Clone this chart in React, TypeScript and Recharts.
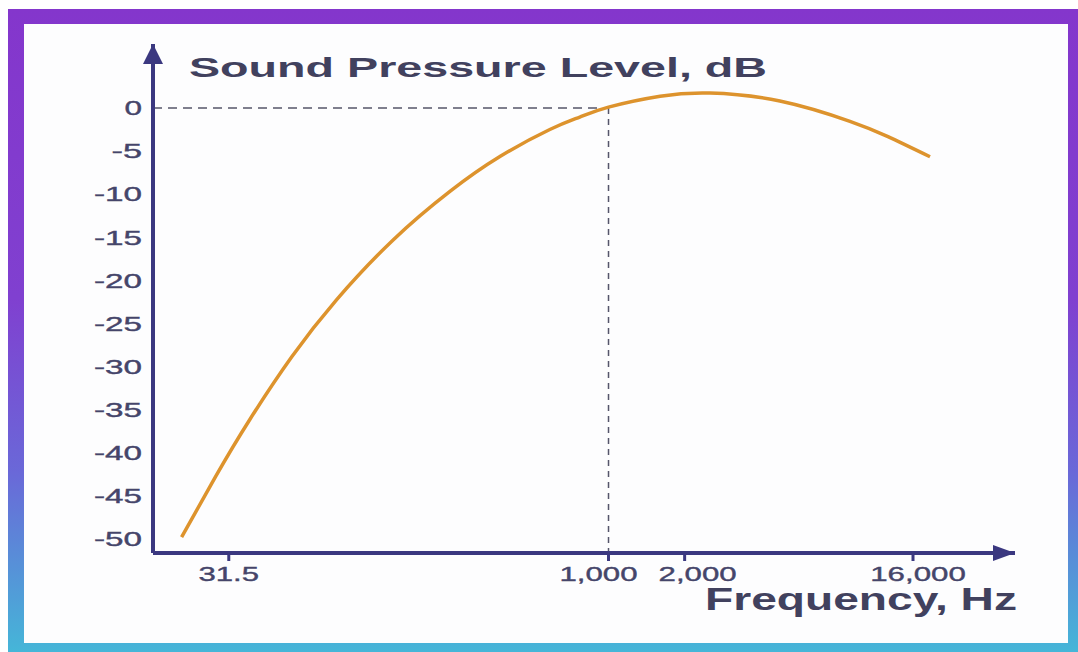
import { LineChart, Line, XAxis, YAxis, ReferenceLine, ReferenceDot } from "recharts";

// curve: frequency (Hz) and level (dB)
const freqs = [20.5, 28, 38, 56, 84, 140, 236, 372, 586, 770, 1000, 1600, 2520, 4760, 9010, 12740, 18680];
const levels = [-49.9, -42.8, -36.3, -28.9, -22.3, -15.4, -9.7, -5.65, -2.5, -1.05, 0.1, 1.37, 1.74, 0.81, -1.55, -3.33, -5.67];

const xTicks = [31.5, 1000, 2000, 16000];
const xTickLabels = ["31.5", "1,000", "2,000", "16,000"];
const yTicks = [0, -5, -10, -15, -20, -25, -30, -35, -40, -45, -50];

const refFreq = 1000;
const refLevel = 0;

const X_MIN = 15.8;
const X_MAX = 40500;
const Y_MIN = -51.74;
const Y_MAX = 7.44;

const NAVY = "#3b3880";
const TEXT = "#45456a";
const ORANGE = "#dd932d";

const data = freqs.map((f, i) => ({ f, db: levels[i] }));

// the source artwork is stretched sideways, so text is given a forced width
function textWidth(s: string) {
  let w = 0;
  for (const c of s) {
    if (c === "-") w += 13;
    else if (c === "," || c === ".") w += 8;
    else w += 17.5;
  }
  return w;
}

const labelNudge: Record<number, number> = { 1000: -10, 2000: 13, 16000: 5 };

function XTick(props: any) {
  const { x, y, payload } = props;
  const i = xTicks.indexOf(payload.value);
  const label = i >= 0 ? xTickLabels[i] : String(payload.value);
  return (
    <text
      x={x + (labelNudge[payload.value] || 0)}
      y={y + 18}
      textAnchor="middle"
      textLength={textWidth(label)}
      lengthAdjust="spacingAndGlyphs"
      fontFamily="Liberation Sans, Arial, sans-serif"
      fontSize={21}
      fill={TEXT}
      stroke={TEXT}
      strokeWidth={0.4}
    >
      {label}
    </text>
  );
}

function YTick(props: any) {
  const { x, y, payload } = props;
  const label = String(payload.value);
  return (
    <text
      x={x}
      y={y + 7.5}
      textAnchor="end"
      textLength={textWidth(label)}
      lengthAdjust="spacingAndGlyphs"
      fontFamily="Liberation Sans, Arial, sans-serif"
      fontSize={21}
      fill={TEXT}
      stroke={TEXT}
      strokeWidth={0.4}
    >
      {label}
    </text>
  );
}

export default function App() {
  return (
    <div style={{ position: "absolute", left: 0, top: 0, width: 1078, height: 652, background: "#fff" }}>
      <div
        style={{
          position: "absolute",
          left: 8,
          top: 9,
          width: 1070,
          height: 643,
          background: "linear-gradient(to bottom, #8436cc 0%, #8040d0 45%, #6a68d8 72%, #45b6d8 100%)",
        }}
      />
      <div style={{ position: "absolute", left: 24, top: 24, width: 1044, height: 619, background: "#fdfdfe" }} />
      <div style={{ position: "absolute", left: 0, top: 0 }}>
        <LineChart width={1078} height={652} data={data} margin={{ top: 44, right: 63, bottom: 69, left: 93 }}>
          <XAxis
            dataKey="f"
            type="number"
            scale="log"
            domain={[X_MIN, X_MAX]}
            allowDataOverflow
            ticks={xTicks}
            interval={0}
            height={30}
            tickSize={8}
            tickMargin={2}
            tickLine={{ stroke: NAVY, strokeWidth: 3 }}
            axisLine={{ stroke: NAVY, strokeWidth: 4 }}
            tick={<XTick />}
            label={{
              content: (p: any) => (
                <text
                  x={p.viewBox.x + p.viewBox.width + 2}
                  y={610}
                  textAnchor="end"
                  textLength={312}
                  lengthAdjust="spacingAndGlyphs"
                  fontFamily="Liberation Sans, Arial, sans-serif"
                  fontWeight="bold"
                  fontSize={31}
                  fill="#41415e"
                >
                  Frequency, Hz
                </text>
              ),
            }}
          />
          <YAxis
            type="number"
            domain={[Y_MIN, Y_MAX]}
            allowDataOverflow
            ticks={yTicks}
            interval={0}
            width={60}
            tickSize={0}
            tickMargin={11}
            tickLine={false}
            axisLine={{ stroke: NAVY, strokeWidth: 4 }}
            tick={<YTick />}
            label={{
              content: () => (
                <text
                  x={189}
                  y={77}
                  textLength={578}
                  lengthAdjust="spacingAndGlyphs"
                  fontFamily="Liberation Sans, Arial, sans-serif"
                  fontWeight="bold"
                  fontSize={28}
                  fill="#41415e"
                >
                  Sound Pressure Level, dB
                </text>
              ),
            }}
          />
          <ReferenceLine
            segment={[
              { x: X_MIN, y: refLevel },
              { x: refFreq, y: refLevel },
            ]}
            stroke="#55556a"
            strokeWidth={1.5}
            strokeDasharray="9 6"
            ifOverflow="visible"
          />
          <ReferenceLine
            segment={[
              { x: refFreq, y: refLevel },
              { x: refFreq, y: Y_MIN },
            ]}
            stroke="#55556a"
            strokeWidth={1.5}
            strokeDasharray="6 5"
            ifOverflow="visible"
          />
          <Line
            type="natural"
            dataKey="db"
            stroke={ORANGE}
            strokeWidth={3.5}
            dot={false}
            activeDot={false}
            isAnimationActive={false}
          />
          <ReferenceDot
            x={X_MAX}
            y={Y_MIN}
            ifOverflow="visible"
            shape={(p: any) => <path d={`M${p.cx},${p.cy} l-22,-8 l0,16 z`} fill={NAVY} />}
          />
          <ReferenceDot
            x={X_MIN}
            y={Y_MAX}
            ifOverflow="visible"
            shape={(p: any) => <path d={`M${p.cx},${p.cy} l-10,20 l20,0 z`} fill={NAVY} />}
          />
        </LineChart>
      </div>
    </div>
  );
}
